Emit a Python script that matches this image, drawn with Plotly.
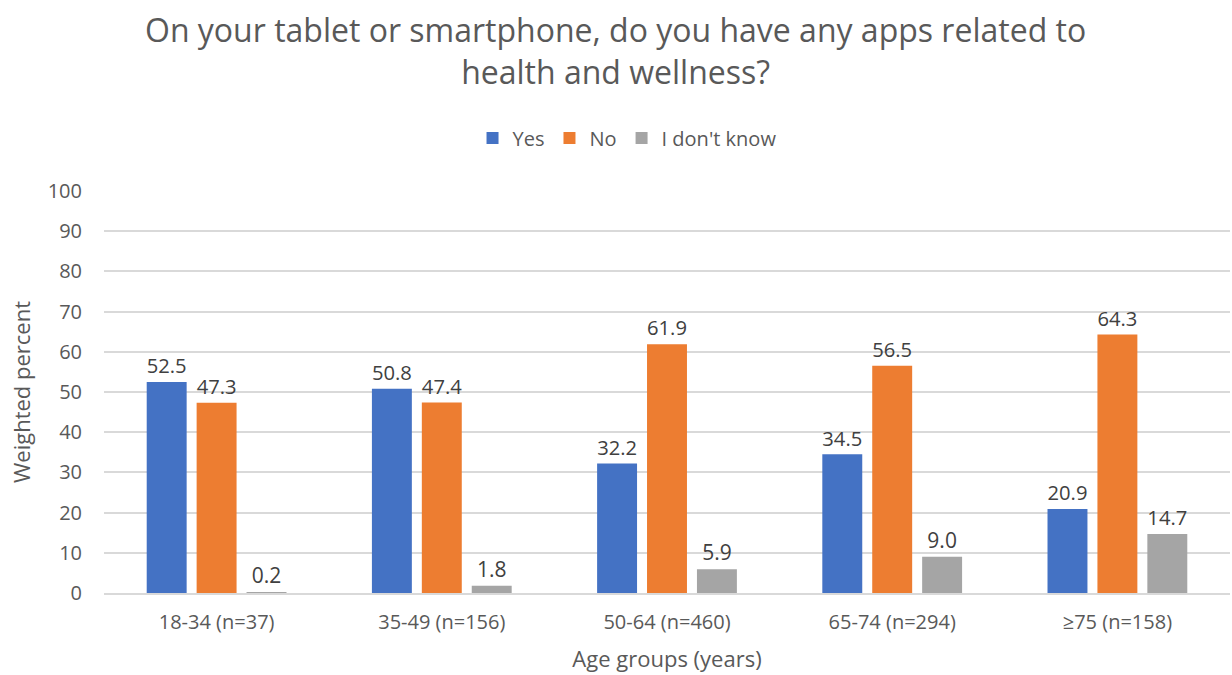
import plotly.graph_objects as go

categories = ["18-34 (n=37)", "35-49 (n=156)", "50-64 (n=460)", "65-74 (n=294)", "≥75 (n=158)"]
yes_vals = [52.5, 50.8, 32.2, 34.5, 20.9]
no_vals = [47.3, 47.4, 61.9, 56.5, 64.3]
dk_vals = [0.2, 1.8, 5.9, 9.0, 14.7]
series_names = ["Yes", "No", "I don't know"]
colors = ["#4472C4", "#ED7D31", "#A5A5A5"]
y_ticks = list(range(0, 101, 10))
title_lines = ["On your tablet or smartphone, do you have any apps related to", "health and wellness?"]

font_family = "Open Sans, Segoe UI, Noto Sans, sans-serif"
fig = go.Figure()
for name, vals, col in zip(series_names, [yes_vals, no_vals, dk_vals], colors):
    fig.add_trace(go.Bar(
        x=categories, y=vals, name=name, marker=dict(color=col, line=dict(width=0)),
        text=[f"{v:.1f}" for v in vals], textposition="outside", cliponaxis=False,
        textfont=dict(size=21, color="#404040", family=font_family),
    ))

fig.add_annotation(text="<br>".join(title_lines), xref="paper", yref="paper", x=0.4547, y=1,
                   yshift=191 - 6, xanchor="center", yanchor="top", showarrow=False,
                   font=dict(size=32, color="#595959", family=font_family))

fig.update_layout(
    width=1232, height=675,
    paper_bgcolor="white", plot_bgcolor="white",
    margin=dict(l=104, r=2, t=191, b=82),
    barmode="group", bargap=0.335, bargroupgap=0.2,
    legend=dict(orientation="h", x=0.4645, xanchor="center", y=1.132, yanchor="middle",
                font=dict(size=20, color="#595959", family=font_family), traceorder="normal"),
    font=dict(family=font_family, color="#595959"),
)
fig.update_yaxes(range=[0, 100], tickvals=y_ticks, showgrid=True, gridcolor="#D9D9D9", gridwidth=2,
                 zeroline=False, showline=False, tickfont=dict(size=20, color="#595959"),
                 ticklabelstandoff=21,
                 title=dict(text="Weighted percent", font=dict(size=22, color="#595959"), standoff=10))
fig.update_xaxes(showline=True, linecolor="#D9D9D9", linewidth=2, tickfont=dict(size=20, color="#595959"),
                 ticklabelstandoff=10,
                 title=dict(text="Age groups (years)", font=dict(size=22, color="#595959"), standoff=18))

fig.write_html("out.html")
